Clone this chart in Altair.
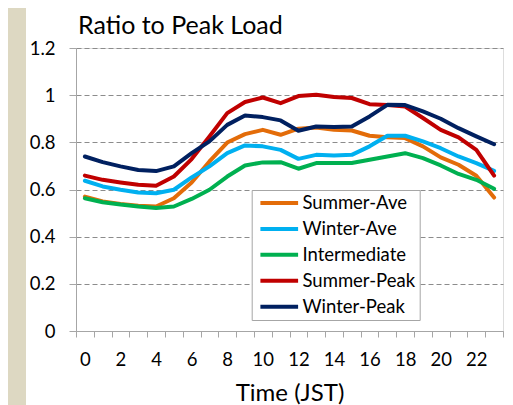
import altair as alt
import pandas as pd

hours = list(range(24))
series_names = ["Summer-Ave", "Winter-Ave", "Intermediate", "Summer-Peak", "Winter-Peak"]
summer_ave = [0.570, 0.549, 0.539, 0.531, 0.528, 0.563, 0.630, 0.719, 0.799, 0.835, 0.853, 0.832,
              0.858, 0.863, 0.853, 0.850, 0.828, 0.822, 0.818, 0.783, 0.736, 0.705, 0.658, 0.566]
winter_ave = [0.637, 0.613, 0.599, 0.587, 0.584, 0.599, 0.651, 0.698, 0.754, 0.787, 0.783, 0.768,
              0.730, 0.747, 0.744, 0.747, 0.783, 0.828, 0.828, 0.804, 0.775, 0.740, 0.712, 0.679]
intermediate = [0.563, 0.546, 0.536, 0.528, 0.522, 0.528, 0.560, 0.599, 0.655, 0.702, 0.715, 0.716,
                0.688, 0.712, 0.712, 0.712, 0.726, 0.740, 0.754, 0.733, 0.702, 0.666, 0.641, 0.603]
summer_peak = [0.659, 0.641, 0.630, 0.620, 0.616, 0.655, 0.729, 0.825, 0.924, 0.971, 0.990, 0.966,
               0.996, 1.002, 0.992, 0.988, 0.962, 0.958, 0.952, 0.903, 0.853, 0.821, 0.768, 0.659]
winter_peak = [0.740, 0.716, 0.698, 0.683, 0.678, 0.698, 0.754, 0.804, 0.874, 0.914, 0.907, 0.893,
               0.849, 0.867, 0.865, 0.867, 0.910, 0.959, 0.958, 0.931, 0.900, 0.860, 0.825, 0.792]
colors = ["#E36C09", "#00B0F0", "#00B050", "#C00000", "#002060"]
y_ticks = [0, 0.2, 0.4, 0.6, 0.8, 1.0, 1.2]
x_tick_values = [i / 2 for i in range(-1, 48)]

rows = []
for name, vals in zip(series_names, [summer_ave, winter_ave, intermediate, summer_peak, winter_peak]):
    for h, v in zip(hours, vals):
        rows.append({"hour": h, "ratio": v, "series": name})
df = pd.DataFrame(rows)

W, H = 427, 283
FONT = "Lato"
FS = 18.5
PAD_B = 82

x_axis = alt.Axis(
    values=x_tick_values,
    labelExpr="datum.value % 2 == 0 ? '' + datum.value : ''",
    tickOpacity={"condition": {"test": "datum.value % 1 == 0", "value": 0}, "value": 1},
    tickSize=6, tickColor="#A6A6A6", domainColor="#A6A6A6",
    labelOverlap=False, labelFlush=False, labelFontSize=FS, labelFont=FONT,
    labelColor="black", labelPadding=13, grid=False,
    title="Time (JST)", titleFontSize=24, titleFont=FONT, titleFontWeight="normal",
    titleColor="black", titlePadding=13,
)
y_axis = alt.Axis(
    values=y_ticks, format="~g", grid=True, gridDash=[5, 3], gridColor="#8C8C8C",
    gridWidth=1, tickSize=7, tickColor="#A6A6A6", domainColor="#A6A6A6",
    labelFontSize=FS, labelFont=FONT, labelColor="black", labelPadding=14, title=None,
)

legend = alt.Legend(
    orient="none", legendX=175.7, legendY=142, title=None,
    symbolType="M-0.869,0H1.105", symbolSize=1459, symbolStrokeWidth=4,
    labelFontSize=FS, labelFont=FONT, labelColor="black", labelOffset=4,
    padding=3.8, clipHeight=18.5, rowPadding=6.9,
    strokeColor="#A6A6A6", fillColor="white",
)

lines = alt.Chart(df).mark_line(strokeWidth=4, strokeCap="round", strokeJoin="round").encode(
    x=alt.X("hour:Q", scale=alt.Scale(domain=[-0.5, 23.5], nice=False, zero=False), axis=x_axis),
    y=alt.Y("ratio:Q", scale=alt.Scale(domain=[0, 1.2], nice=False), axis=y_axis),
    color=alt.Color("series:N", sort=series_names,
                    scale=alt.Scale(domain=series_names, range=colors), legend=legend),
    order=alt.Order("hour:Q"),
)

strip = alt.Chart(pd.DataFrame({"a": [0]})).mark_rect(color="#DDD8C2").encode(
    x=alt.value(-68), x2=alt.value(-50), y=alt.value(-40), y2=alt.value(H + PAD_B),
)

chart = alt.layer(strip, lines).properties(
    width=W, height=H,
    title=alt.TitleParams("Ratio to Peak Load", anchor="start", frame="group", fontSize=25,
                          font=FONT, fontWeight="normal", color="black", dx=2, offset=0,
                          baseline="alphabetic", dy=51),
    autosize=alt.AutoSizeParams(type="none"),
    padding={"left": 68, "top": 40, "right": 2, "bottom": PAD_B},
).configure_view(stroke=None).configure(background="white")

chart.save("out.html", embed_options={"renderer": "svg", "actions": False})
